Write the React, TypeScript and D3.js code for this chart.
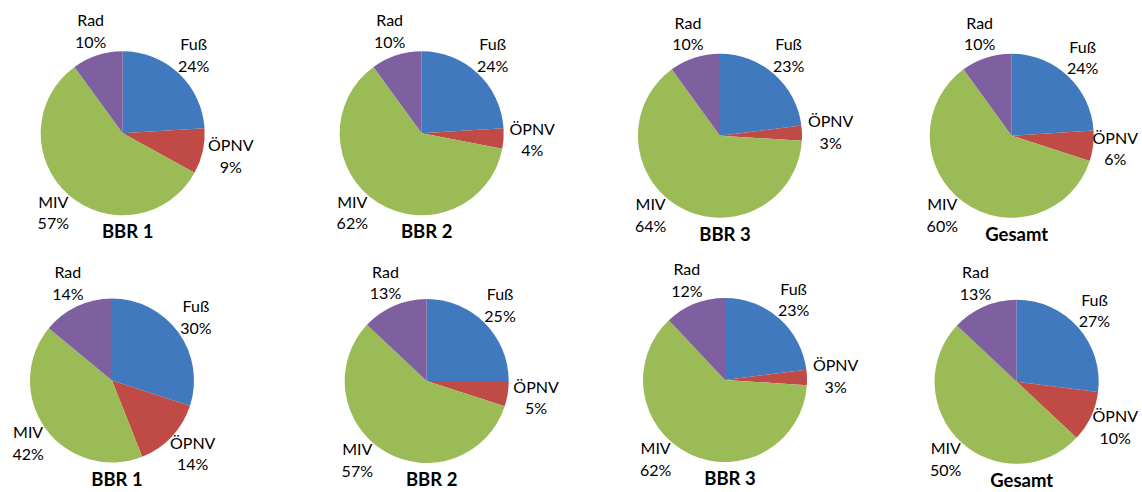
import React from "react";
import * as d3 from "d3";

const categories = ["Fuß", "ÖPNV", "MIV", "Rad"];
const colors = ["#4179BE", "#BF4A46", "#9ABB55", "#7E5FA0"];
const titles = ["BBR 1", "BBR 2", "BBR 3", "Gesamt", "BBR 1", "BBR 2", "BBR 3", "Gesamt"];
const fussValues = [24, 24, 23, 24, 30, 25, 23, 27];
const oepnvValues = [9, 4, 3, 6, 14, 5, 3, 10];
const mivValues = [57, 62, 64, 60, 42, 57, 62, 50];
const radValues = [10, 10, 10, 10, 14, 13, 12, 13];

// layout of the eight panels (pie centres)
const panelX = [122.7, 421.7, 720, 1011.7, 112, 426.7, 725, 1016.7];
const panelY = [133.3, 133.3, 135.7, 135.7, 380.5, 381, 380, 381.7];
const RADIUS = 82;
const W = 1142;
const H = 492;
const FONT = "Lato, 'Open Sans', sans-serif";
const LABEL_SIZE = 16;
const LINE_H = 21.6;

let ctx: CanvasRenderingContext2D | null = null;
function measure(text: string, font: string): number {
  if (!ctx) {
    const c = document.createElement("canvas");
    ctx = c.getContext("2d");
  }
  if (!ctx) return text.length * 9;
  ctx.font = font;
  return ctx.measureText(text).width;
}

function Pie({ idx }: { idx: number }) {
  const values = [fussValues[idx], oepnvValues[idx], mivValues[idx], radValues[idx]];
  const data = categories.map((c, i) => ({ cat: c, value: values[i], color: colors[i] }));
  const pie = d3.pie<any>().value((d: any) => d.value).sort(null).startAngle(0).endAngle(Math.PI * 2);
  const arcs = pie(data);
  const arc = d3.arc<any>().innerRadius(0).outerRadius(RADIUS);
  const cx = panelX[idx];
  const cy = panelY[idx];
  const total = d3.sum(values);
  return (
    <g>
      <g transform={`translate(${cx},${cy})`}>
        {arcs.map((a: any, i: number) => (
          <path key={i} d={arc(a) as string} fill={a.data.color} />
        ))}
        {arcs.map((a: any, i: number) => {
          let deg = ((a.startAngle + a.endAngle) / 2) * 180 / Math.PI;
          // keep labels clear of the title beneath the pie
          if (deg > 180 && deg < 222) deg = 222;
          const ang = (deg * Math.PI) / 180;
          const s = Math.sin(ang);
          const c = -Math.cos(ang);
          const pct = Math.round((a.data.value / total) * 100) + "%";
          const f = `${LABEL_SIZE}px ${FONT}`;
          const w = Math.max(measure(a.data.cat, f), measure(pct, f));
          const h = 38;
          let ax = (RADIUS + 6) * s + (s * w) / 2;
          const ay = (RADIUS + 6) * c + (c * h) / 2;
          // keep the label inside the picture
          const maxX = W - 4 - cx - w / 2;
          if (ax > maxX) ax = maxX;
          const minX = 4 - cx + w / 2;
          if (ax < minX) ax = minX;
          return (
            <text key={"l" + i} textAnchor="middle" fontFamily={FONT} fontSize={LABEL_SIZE} fill="#000">
              <tspan x={ax} y={ay - LINE_H / 2 + 5.6}>{a.data.cat}</tspan>
              <tspan x={ax} y={ay + LINE_H / 2 + 5.6}>{pct}</tspan>
            </text>
          );
        })}
      </g>
      <text x={cx + 5} y={cy + 105} textAnchor="middle" fontFamily={FONT} fontSize={18.5} fontWeight="bold" fill="#000">
        {titles[idx]}
      </text>
    </g>
  );
}

export default function App() {
  return (
    <svg width={W} height={H} style={{ position: "absolute", left: 0, top: 0, background: "#fff" }}>
      <rect width={W} height={H} fill="#fff" />
      {titles.map((_, i) => (
        <Pie key={i} idx={i} />
      ))}
    </svg>
  );
}
